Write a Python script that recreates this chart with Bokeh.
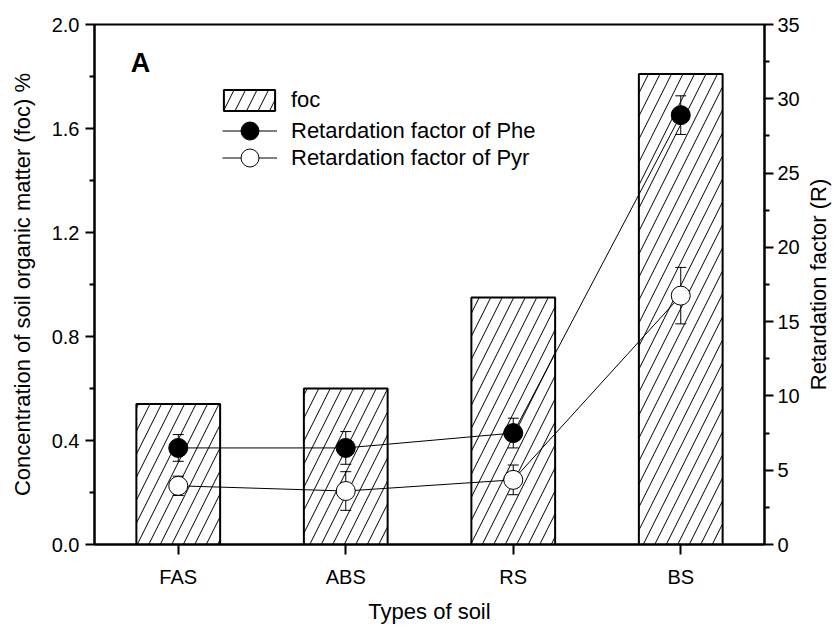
import math
from bokeh.plotting import figure
from bokeh.layouts import row
from bokeh.models import (Range1d, LinearAxis, FixedTicker, Legend, LegendItem, Label,
                          FactorRange, PrintfTickFormatter)
from bokeh.embed import file_html
from bokeh.resources import INLINE

# ---- data ----
soils = ["FAS", "ABS", "RS", "BS"]
foc = [0.54, 0.60, 0.95, 1.81]
phe_r = [6.5, 6.5, 7.5, 28.9]
phe_err = [0.9, 1.1, 1.0, 1.3]
pyr_r = [3.95, 3.6, 4.35, 16.75]
pyr_err = [0.65, 1.3, 1.0, 1.9]
left_ticks = [0.0, 0.4, 0.8, 1.2, 1.6, 2.0]
left_minor = [0.2, 0.6, 1.0, 1.4, 1.8]
right_ticks = [0, 5, 10, 15, 20, 25, 30, 35]
right_minor = [2.5, 7.5, 12.5, 17.5, 22.5, 27.5, 32.5]

FONT = "Liberation Sans"
TICK_FS = "20px"
TITLE_FS = "22px"
FRAME_W, FRAME_H = 670, 520
B_LEFT, B_TOP, B_RIGHT, B_BOTTOM = 94, 24, 40, 77

p = figure(x_range=FactorRange(*soils), y_range=Range1d(0, 2),
           frame_width=FRAME_W, frame_height=FRAME_H,
           min_border_left=B_LEFT, min_border_top=B_TOP,
           min_border_right=B_RIGHT, min_border_bottom=B_BOTTOM,
           output_backend="svg", toolbar_location=None, background_fill_color="white")
p.extra_y_ranges = {"R": Range1d(0, 35)}
p.xgrid.grid_line_color = None
p.ygrid.grid_line_color = None
p.outline_line_color = "black"
p.outline_line_width = 2
p.outline_line_alpha = 1


def style_axis(ax):
    ax.axis_line_width = 2
    ax.axis_line_color = "black"
    ax.major_tick_line_width = 2
    ax.minor_tick_line_width = 2
    ax.major_tick_in = 0
    ax.minor_tick_in = 0
    ax.major_tick_out = 9
    ax.minor_tick_out = 5
    ax.major_label_text_font = FONT
    ax.major_label_text_font_size = TICK_FS
    ax.major_label_text_color = "black"
    ax.axis_label_text_font = FONT
    ax.axis_label_text_font_size = TITLE_FS
    ax.axis_label_text_font_style = "normal"
    ax.axis_label_text_color = "black"


xa = p.xaxis[0]
style_axis(xa)
xa.major_tick_out = 10
xa.axis_label = "Types of soil"
xa.major_label_standoff = 11
xa.axis_label_standoff = 8

ya = p.yaxis[0]
style_axis(ya)
ya.ticker = FixedTicker(ticks=left_ticks, minor_ticks=left_minor)
ya.formatter = PrintfTickFormatter(format="%.1f")
ya.axis_label = "Concentration of soil organic matter (foc) %"
ya.major_label_standoff = 6
ya.axis_label_standoff = 14

ra = LinearAxis(y_range_name="R")
style_axis(ra)
ra.ticker = FixedTicker(ticks=right_ticks, minor_ticks=right_minor)
ra.major_label_standoff = 4
p.add_layout(ra, "right")

# ---- bars ----
bars = p.vbar(x=soils, top=foc, width=0.5, fill_color="white", line_color="black",
              line_width=2, hatch_pattern="/", hatch_color="black", hatch_weight=1,
              hatch_scale=23)

# ---- lines ----
phe_line = p.line(x=soils, y=phe_r, y_range_name="R", line_color="black", line_width=1)
pyr_line = p.line(x=soils, y=pyr_r, y_range_name="R", line_color="black", line_width=1)

# ---- error bars ----
for vals, errs in ((phe_r, phe_err), (pyr_r, pyr_err)):
    upper = [v + e for v, e in zip(vals, errs)]
    lower = [v - e for v, e in zip(vals, errs)]
    p.segment(x0=soils, y0=lower, x1=soils, y1=upper, y_range_name="R",
              line_color="black", line_width=1)
    p.scatter(x=soils, y=upper, y_range_name="R", marker="dash", size=11,
              line_color="black", line_width=1)
    p.scatter(x=soils, y=lower, y_range_name="R", marker="dash", size=11,
              line_color="black", line_width=1)

# ---- markers ----
phe_pts = p.scatter(x=soils, y=phe_r, y_range_name="R", size=19, marker="circle",
                    fill_color="black", line_color="black", line_width=1)
pyr_pts = p.scatter(x=soils, y=pyr_r, y_range_name="R", size=19, marker="circle",
                    fill_color="white", line_color="black", line_width=1)

# ---- legends ----
common = dict(padding=0, margin=0, border_line_color=None, background_fill_alpha=0,
              label_text_font=FONT, label_text_font_size=TITLE_FS,
              label_text_color="black")
leg1 = Legend(items=[LegendItem(label="foc", renderers=[bars])],
              location=(123, 431), glyph_width=64, glyph_height=26, label_height=22,
              label_standoff=10, **common)
leg2 = Legend(items=[LegendItem(label="Retardation factor of Phe",
                                renderers=[phe_line, phe_pts])],
              location=(128, 391), glyph_width=55, glyph_height=45, label_height=22,
              label_standoff=14, **common)
leg3 = Legend(items=[LegendItem(label="Retardation factor of Pyr",
                                renderers=[pyr_line, pyr_pts])],
              location=(128, 364), glyph_width=55, glyph_height=45, label_height=22,
              label_standoff=14, **common)
p.add_layout(leg1)
p.add_layout(leg2)
p.add_layout(leg3)

# ---- panel letter ----
p.add_layout(Label(x=46, y=482, x_units="screen", y_units="screen", text="A",
                   text_font=FONT, text_font_size="27px", text_font_style="bold",
                   text_align="center", text_baseline="middle", text_color="black"))

# ---- right axis title (reads bottom-to-top), in a narrow side figure ----
TITLE_W = 28
pt = figure(frame_width=TITLE_W, frame_height=FRAME_H,
            min_border_left=0, min_border_right=0,
            min_border_top=B_TOP, min_border_bottom=B_BOTTOM,
            x_axis_location=None, y_axis_location=None,
            output_backend="svg", toolbar_location=None,
            x_range=Range1d(0, 1), y_range=Range1d(0, 1), outline_line_color=None)
pt.xgrid.grid_line_color = None
pt.ygrid.grid_line_color = None
pt.add_layout(Label(x=0.5, y=0.5, text="Retardation factor (R)", angle=math.pi / 2,
                    text_font=FONT, text_font_size=TITLE_FS, text_color="black",
                    text_align="center", text_baseline="middle"))

layout = row(p, pt, spacing=0)
open("out.html", "w").write(file_html(layout, INLINE))
